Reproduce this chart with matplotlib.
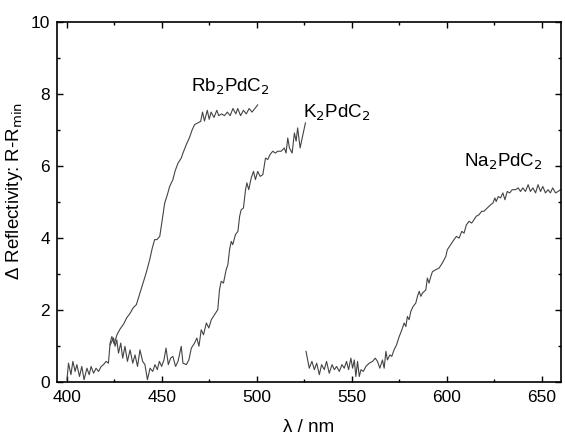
import matplotlib
matplotlib.use("Agg")
import matplotlib.pyplot as plt
from matplotlib.ticker import MultipleLocator

plt.rcParams['font.family'] = ['Liberation Sans', 'DejaVu Sans']

# Rb2PdC2 trace
rb_x = [400.2, 401, 402.3, 403.3, 404.5, 405.4, 406.8, 408, 409.2, 410.7, 411.9, 412.9,
        414.2, 415.5, 416.8, 418.2, 419.4, 420.8, 422, 422.9, 423.8, 425, 426.5, 428,
        430, 431.6, 433.4, 435, 436.7, 438.5, 440.2, 442, 443.7, 445, 446.3, 447.5,
        449, 450.3, 451.6, 453, 454.2, 455.9, 457, 458.6, 460.3, 461.2, 463, 464.7,
        466, 467.3, 469, 470.5, 471.5, 472.5, 474, 475, 476, 477.5, 479, 480, 481.5,
        483, 484.5, 486, 487.5, 489, 490, 491.5, 493, 494.5, 496, 497.5, 499, 500.5]
rb_y = [0.05, 0.51, 0.19, 0.56, 0.28, 0.47, 0.14, 0.42, 0.05, 0.37, 0.19, 0.42,
        0.23, 0.37, 0.28, 0.42, 0.47, 0.56, 0.51, 1.07, 1.25, 1.05, 1.3, 1.45,
        1.6, 1.77, 1.9, 2.05, 2.14, 2.45, 2.74, 3.05, 3.39, 3.7, 3.95, 3.95,
        4.04, 4.5, 4.97, 5.2, 5.43, 5.62, 5.85, 6.08, 6.22, 6.36, 6.6, 6.8,
        7.0, 7.15, 7.2, 7.24, 7.5, 7.25, 7.55, 7.3, 7.5, 7.35, 7.55, 7.4, 7.45,
        7.4, 7.5, 7.4, 7.6, 7.45, 7.6, 7.4, 7.55, 7.45, 7.6, 7.5, 7.6, 7.7]

# K2PdC2 trace
k_x = [422.9, 424.7, 425.5, 426.4, 427.3, 428.5, 429.5, 430.7, 432, 433.4, 434.8, 436,
       437.3, 438.6, 440, 441.2, 442.5, 443.9, 445.3, 446.5, 447.7, 448.8, 450, 451.2,
       452.3, 453.5, 454.7, 455.9, 457.3, 458.6, 460.3, 461.2, 463, 464.3, 465.6, 467.3,
       468.5, 469.6, 470.8, 472, 473.5, 474.8, 476.1, 477.8, 479.5, 480.4, 481.3, 482.5,
       483.9, 484.8, 485.7, 486.6, 487.4, 488.8, 490.1, 491, 491.8, 493, 494.1, 494.8,
       495.8, 497.1, 498.3, 499.3, 500.5, 501.8, 503.2, 504.6, 505.8, 507, 508.4, 509.8,
       511, 512.8, 514.5, 515.4, 516.3, 517.2, 518.6, 519.8, 520.7, 521.5, 522.8, 524.1,
       525.6]
k_y = [1.02, 1.21, 0.98, 1.16, 0.79, 1.07, 0.65, 0.98, 0.56, 0.88, 0.51, 0.74,
       0.42, 0.88, 0.56, 0.47, 0.05, 0.37, 0.28, 0.47, 0.33, 0.56, 0.42, 0.6,
       0.93, 0.47, 0.65, 0.7, 0.42, 0.56, 0.98, 0.51, 0.47, 0.6, 0.93, 1.07,
       1.21, 0.98, 1.44, 1.3, 1.63, 1.49, 1.72, 1.86, 2.0, 2.55, 2.79, 2.74,
       3.11, 3.25, 3.67, 3.9, 3.81, 4.09, 4.18, 4.6, 4.78, 4.83, 5.34, 5.53,
       5.34, 5.67, 5.85, 5.62, 5.85, 5.71, 5.76, 6.22, 6.18, 6.32, 6.41, 6.36,
       6.41, 6.41, 6.5, 6.36, 6.78, 6.5, 6.36, 6.92, 6.69, 7.06, 6.5, 6.83,
       7.2]

# Na2PdC2 trace
na_x = [525.9, 527.6, 529, 530.3, 531.5, 532.9, 534.1, 535.5, 536.7, 538.1, 539.6, 540.8,
        542, 543.4, 544.8, 546, 547.2, 548.3, 549.5, 550.4, 551.3, 552.1, 553, 553.9,
        554.8, 556, 557.4, 559.1, 560.9, 562.3, 563.5, 564.7, 566.1, 567, 567.9, 568.7,
        570, 571, 572.2, 573.5, 574.9, 576.3, 577.5, 578.4, 579.2, 580.1, 581, 582.2,
        583.6, 584.5, 585.4, 586.3, 587.1, 588.9, 589.7, 590.6, 591.5, 592.4, 594.1, 595.9,
        597.6, 599.4, 600.2, 602, 603.7, 605, 606.4, 607.8, 609, 610.2, 611.6, 613,
        614.2, 615.4, 616.8, 618.3, 619.5, 621.2, 623, 624.2, 625.2, 625.9, 627, 628.2,
        629.4, 630.5, 631.7, 633, 634.3, 636.1, 637.5, 638.7, 639.9, 641.3, 642.7, 643.9,
        645.2, 646.6, 647.9, 649.2, 650.4, 651.8, 653.2, 654.4, 655.6, 657.1, 658.4, 659.7]
na_y = [0.84, 0.37, 0.56, 0.33, 0.51, 0.19, 0.47, 0.33, 0.56, 0.23, 0.47, 0.33,
        0.42, 0.28, 0.47, 0.37, 0.56, 0.33, 0.65, 0.37, 0.6, 0.14, 0.56, 0.14,
        0.33, 0.28, 0.42, 0.51, 0.56, 0.65, 0.56, 0.37, 0.6, 0.37, 0.84, 0.6,
        0.74, 0.7, 0.88, 1.02, 1.25, 1.44, 1.63, 1.53, 1.81, 1.72, 1.95, 2.09,
        2.18, 2.37, 2.51, 2.37, 2.46, 2.55, 2.88, 2.74, 2.92, 3.06, 3.11, 3.16,
        3.3, 3.48, 3.67, 3.81, 3.95, 4.04, 3.99, 4.18, 4.13, 4.36, 4.46, 4.41,
        4.5, 4.6, 4.64, 4.74, 4.74, 4.83, 4.92, 4.97, 5.11, 5.01, 5.15, 5.11,
        5.25, 5.06, 5.29, 5.25, 5.34, 5.34, 5.39, 5.29, 5.39, 5.29, 5.48, 5.29,
        5.39, 5.25, 5.48, 5.29, 5.43, 5.25, 5.34, 5.25, 5.39, 5.25, 5.29, 5.34]

labels = ['Rb$_2$PdC$_2$', 'K$_2$PdC$_2$', 'Na$_2$PdC$_2$']
label_pos = [(465.3, 8.08), (524.2, 7.34), (609.0, 5.97)]

fig = plt.figure(figsize=(5.65, 4.37), dpi=100)
ax = fig.add_axes([0.101, 0.127, 0.892, 0.822])

for xs, ys in [(rb_x, rb_y), (k_x, k_y), (na_x, na_y)]:
    ax.plot(xs, ys, color='#444444', lw=0.8)

for lab, (lx, ly) in zip(labels, label_pos):
    ax.text(lx, ly, lab, fontsize=13.5, ha='left', va='baseline')

ax.set_xlim(395, 660)
ax.set_ylim(0, 10)
ax.xaxis.set_major_locator(MultipleLocator(50))
ax.xaxis.set_minor_locator(MultipleLocator(25))
ax.yaxis.set_major_locator(MultipleLocator(2))
ax.yaxis.set_minor_locator(MultipleLocator(1))
ax.tick_params(which='both', direction='in', top=True, right=True, width=1, labelsize=12.5)
ax.tick_params(which='major', length=4.5)
ax.tick_params(which='minor', length=2.5)
ax.tick_params(axis='x', pad=6)
ax.tick_params(axis='y', pad=5)
for s in ax.spines.values():
    s.set_linewidth(1.2)

ax.set_xlabel('λ / nm', fontsize=13.5, labelpad=10)
ax.set_ylabel('Δ Reflectivity: R-R$_{\\rm min}$', fontsize=13.5)
ax.yaxis.set_label_coords(-0.063, 0.53)

plt.savefig('out.png', dpi=100)
